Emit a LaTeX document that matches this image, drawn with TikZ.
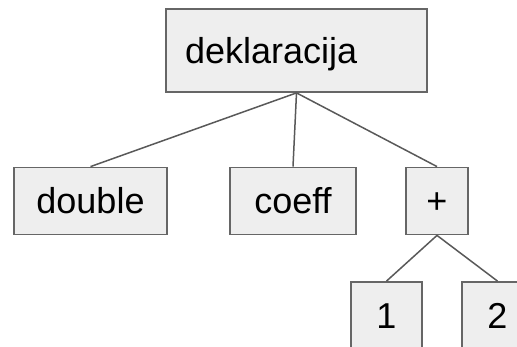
\documentclass[tikz,border=0pt]{standalone}
\usepackage{fontspec}
\setmainfont{Liberation Sans}
\usetikzlibrary{positioning}

\definecolor{boxfill}{HTML}{EEEEEE}
\definecolor{boxline}{HTML}{666666}
\definecolor{treeline}{HTML}{595959}

\begin{document}
\begin{tikzpicture}[x=1pt,y=1pt,on grid,
    astnode/.style={draw=boxline, fill=boxfill, line width=1.8pt,
      minimum height=67pt, inner sep=0pt, text height=26pt, text depth=0pt,
      font=\fontsize{36}{43}\selectfont},
    treeedge/.style={draw=treeline, line width=1.5pt}]
      \useasboundingbox (0,0) rectangle (517,-347);
      \node[astnode, minimum height=83pt, inner xsep=19pt, text width=223pt, align=left]
        (root) at (296.5,-50.5) {deklaracija};
      \node[astnode, minimum width=153pt] (double) [below left=150.5pt and 206pt of root] {double};
      \node[astnode, minimum width=126pt] (coeff) [below left=150.5pt and 3.5pt of root] {coeff};
      \node[astnode, minimum width=62pt] (plus) [below right=150.5pt and 140.5pt of root] {+};
      \node[astnode, minimum width=71pt] (one) [below left=114.5pt and 50.5pt of plus] {1};
      \node[astnode, minimum width=71pt] (two) [below right=114.5pt and 60.5pt of plus] {2};
      \path[treeedge]
      (root.south) edge (double.north)
                   edge (coeff.north)
                   edge (plus.north);
      \path[treeedge]
      (plus.south) edge (one.north)
                   edge (two.north);
    \end{tikzpicture}
\end{document}
